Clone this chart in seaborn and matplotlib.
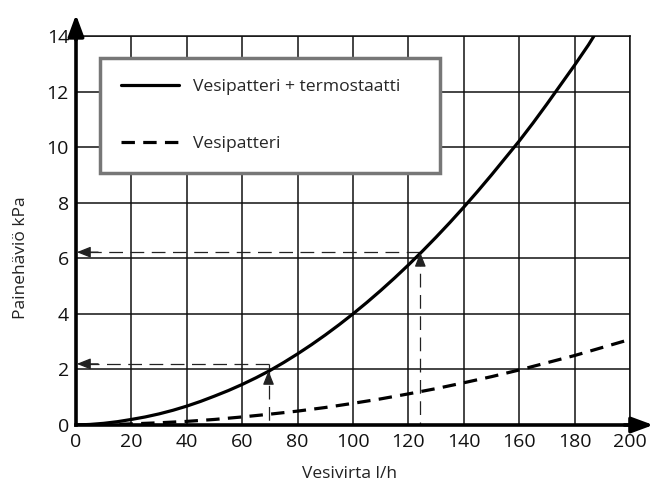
import matplotlib
matplotlib.use("Agg")
import matplotlib.pyplot as plt
import seaborn as sns
import pandas as pd

# values
flow_thermo = [0, 5, 10, 15, 20, 25, 30, 35, 40, 45, 50, 55, 60, 65, 70, 75, 80, 85, 90, 95,
               100, 105, 110, 115, 120, 125, 130, 135, 140, 145, 150, 155, 160, 165, 170,
               175, 180, 185, 187]
dp_thermo = [0, 0.02, 0.06, 0.12, 0.2, 0.29, 0.4, 0.53, 0.68, 0.85, 1.04, 1.24, 1.46, 1.7,
             1.96, 2.25, 2.56, 2.89, 3.24, 3.61, 4.0, 4.41, 4.84, 5.29, 5.76, 6.25, 6.76,
             7.29, 7.84, 8.41, 9.0, 9.61, 10.22, 10.87, 11.55, 12.25, 12.95, 13.68, 14.0]

flow_coil = [0, 10, 20, 30, 40, 50, 60, 70, 80, 90, 100, 110, 120, 130, 140, 150, 160,
             170, 180, 190, 200]
dp_coil = [0, 0.01, 0.04, 0.08, 0.13, 0.2, 0.29, 0.39, 0.5, 0.63, 0.78, 0.94, 1.12,
           1.31, 1.52, 1.74, 1.98, 2.24, 2.5, 2.79, 3.08]

# example read-outs (flow, pressure drop on curve, level of horizontal guide)
ref_flow = [69.5, 124.3]
ref_dp_curve = [1.95, 6.2]
ref_dp_level = [2.2, 6.22]

x_ticks = list(range(0, 201, 20))
y_ticks = list(range(0, 15, 2))

label_thermo = "Vesipatteri + termostaatti"
label_coil = "Vesipatteri"

sns.set_style("white")
plt.rcParams['font.family'] = ['Open Sans', 'DejaVu Sans']

fig = plt.figure(figsize=(6.53, 4.9), dpi=100)
ax = fig.add_axes([76 / 653, 65 / 490, 554 / 653, 389 / 490])

df_t = pd.DataFrame({"flow": flow_thermo, "dp": dp_thermo})
df_c = pd.DataFrame({"flow": flow_coil, "dp": dp_coil})

sns.lineplot(data=df_t, x="flow", y="dp", ax=ax, color="black", lw=2.3,
             label=label_thermo, zorder=5)
sns.lineplot(data=df_c, x="flow", y="dp", ax=ax, color="black", lw=2.3,
             linestyle=(0, (4.2, 2.6)), label=label_coil, zorder=5)

# guide lines with arrow heads
guide = dict(color="#222222", lw=0.9, zorder=4)
head = dict(arrowstyle="-|>,head_length=0.7,head_width=0.28", color="#222222",
            lw=0.9, mutation_scale=12, shrinkA=0, shrinkB=0)
for fx, fy, ly in zip(ref_flow, ref_dp_curve, ref_dp_level):
    ax.plot([fx, fx], [ly, 0], linestyle=(0, (11, 6)), **guide)
    ax.plot([fx, 3], [ly, ly], linestyle=(0, (11, 6)), **guide)
    ax.annotate("", xy=(fx, fy), xytext=(fx, fy - 0.4), arrowprops=head, zorder=6)
    ax.annotate("", xy=(0.3, ly), xytext=(8, ly), arrowprops=head, zorder=6)

ax.set_xlim(0, 200)
ax.set_ylim(0, 14)
ax.set_xticks(x_ticks)
ax.set_yticks(y_ticks)
ax.grid(True, color="#111111", lw=1.1)
ax.tick_params(axis="both", length=0, labelsize=14, colors="#111111")
ax.tick_params(axis="x", pad=6)
ax.tick_params(axis="y", pad=5)

for side in ["top", "right"]:
    ax.spines[side].set_linewidth(1.1)
    ax.spines[side].set_color("#111111")
for side in ["left", "bottom"]:
    ax.spines[side].set_linewidth(2.6)
    ax.spines[side].set_color("black")
    ax.spines[side].set_zorder(7)

# axis arrows
axis_head = dict(arrowstyle="-|>,head_length=1.3,head_width=0.48", color="black",
                 lw=2.6, mutation_scale=10, shrinkA=0, shrinkB=0)
ax.annotate("", xy=(1.042, 0), xycoords="axes fraction", xytext=(0.99, 0),
            arrowprops=axis_head, annotation_clip=False)
ax.annotate("", xy=(0, 1.055), xycoords="axes fraction", xytext=(0, 0.99),
            arrowprops=axis_head, annotation_clip=False)

ax.set_xlabel("Vesivirta l/h", fontsize=12.5, color="#222222")
ax.set_ylabel("Painehäviö kPa", fontsize=12.5, color="#222222")
ax.xaxis.set_label_coords(0.493, -0.105)
ax.yaxis.set_label_coords(-0.085, 0.43)

leg = ax.legend(loc="upper left", bbox_to_anchor=(0.043, 0.943, 0.614, 0.0),
                mode="expand", borderaxespad=0, fontsize=12.6,
                frameon=True, fancybox=False, framealpha=1,
                edgecolor="#777777", handlelength=3.3, handletextpad=0.8,
                labelspacing=2.3, borderpad=1.2)
leg.get_frame().set_linewidth(2.5)
leg.set_zorder(10)

fig.savefig("out.png", dpi=100)
